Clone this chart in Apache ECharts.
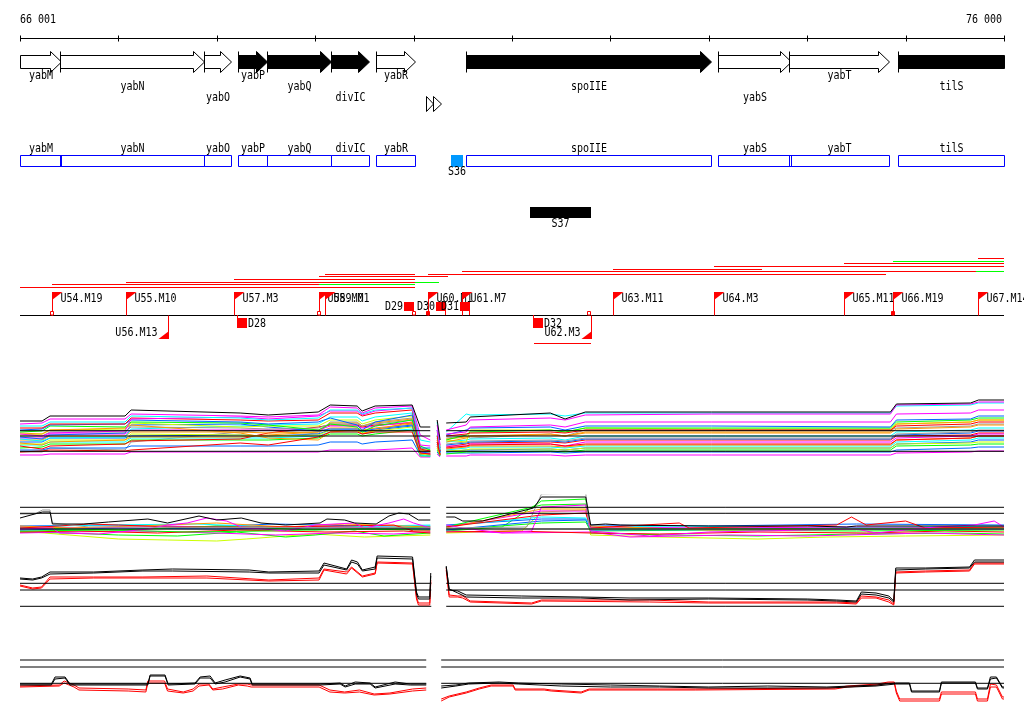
<!DOCTYPE html>
<html><head><meta charset="utf-8">
<script src="https://cdn.jsdelivr.net/npm/echarts@6/dist/echarts.min.js"></script>
<style>html,body{margin:0;padding:0;background:#fff}#c{width:1024px;height:714px}</style>
</head><body><div id="c"></div>
<script>
// ================= DATA =================
const RANGE = [66001, 76000];
const RANGE_LABELS = ['66 001', '76 000'];
const TICKS = [66001, 67001, 68001, 69001, 70001, 71001, 72001, 73001, 74001, 75001, 76000];

// genes (arrows + blue boxes)
const GENE_NAMES  = ['yabM', 'yabN', 'yabO', 'yabP', 'yabQ', 'divIC', 'yabR', 'spoIIE', 'yabS', 'yabT', 'tilS'];
const GENE_START  = [66001, 66408, 67871, 68216, 68511, 69161, 69619, 70533, 73094, 73815, 74923];
const GENE_END    = [66418, 67871, 68145, 68511, 69161, 69547, 70015, 73023, 73836, 74832, 76000];
const GENE_FILLED = [0, 0, 0, 1, 1, 1, 0, 1, 0, 0, 1];
const GENE_LABEL_ROW = [0, 1, 2, 0, 1, 2, 0, 1, 2, 0, 1];
// small unlabeled features (two small arrowheads)
const SMALL_START = [70122, 70193];
const SMALL_END   = [70193, 70274];

// S features
const S_NAMES = ['S36', 'S37'];
const S_START = [70381, 71183];
const S_END   = [70503, 71803];

// transcription-unit lines (lane, start, end, ok=green)
const TU_LANE  = [0, 1, 2, 3, 4, 5, 5, 6, 6, 7, 8, 9, 9, 10, 10, 11];
const TU_START = [75737, 74872, 74374, 73053, 72027, 70493, 75717, 69101, 70148, 69040, 68176, 67078, 70015, 66326, 69040, 66001];
const TU_END   = [76000, 76000, 76000, 76000, 73541, 75717, 76000, 70015, 74801, 70351, 70015, 70015, 70262, 69040, 70015, 70015];
const TU_OK    = [0, 1, 0, 0, 0, 0, 1, 0, 0, 0, 0, 0, 1, 0, 1, 0];
const LOWER_TU = [[71224, 71803]];

// flags (TU starts)
const FLAG_NAMES  = ['U54.M19', 'U55.M10', 'U56.M13', 'U57.M3', 'U58.M0', 'U59.M1', 'U60.M1', 'U61.M7', 'U62.M3', 'U63.M11', 'U64.M3', 'U65.M11', 'U66.M19', 'U67.M14'];
const FLAG_POS    = [66326, 67078, 67505, 68176, 69040, 69101, 70148, 70494, 71806, 72027, 73053, 74374, 74872, 75737];
const FLAG_STRAND = [1, 1, -1, 1, 1, 1, 1, 1, -1, 1, 1, 1, 1, 1];

// terminators
const TERM_NAMES  = ['D28', 'D29', 'D30', 'D31', 'D32'];
const TERM_POS    = [68206, 70007, 70332, 70576, 71214];
const TERM_STRAND = [-1, 1, 1, 1, -1];

// small baseline markers
const BASE_OPEN   = [66326, 69040, 70007, 71786];
const BASE_FILLED = [70148, 74872];

// ---- expression panel A (many conditions) ----
const A_POS = [66001, 66225, 66306, 67068, 67130, 68238, 68523, 69031, 69153, 69427, 69478, 69610, 69986, 70068, 70170, 70240, 70270, 70332, 70535, 70576, 71390, 71540, 71745, 73026, 74846, 74907, 75660, 75741, 76000];
const A_BREAKS = [70200, 70300];
const A_L1  = [39,39,44,44,50,47,45,48,55,54,49,54,55,33,33,40,20,37,38,43,47,41,48,48,48,56,57,60,60];
const A_L2  = [36,37,41,41,46,44,43,45,53,52,47,52,54,25,20,35,15,30,35,40,42,40,45,46,46,55,56,58,58];
const A_L3  = [34,34,38,38,44,42,40,42,50,50,46,50,52,20,18,38,10,28,46,45,46,44,47,47,47,54,55,57,57];
const A_L4  = [30,31,35,36,40,38,36,38,42,35,30,38,45,12,12,30,8,25,30,32,33,30,34,34,33,40,41,44,44];
const A_L5  = [28,29,34,33,38,37,35,30,36,33,28,34,40,14,10,25,12,20,25,28,30,28,32,32,32,38,40,42,42];
const A_L6  = [27,26,30,32,35,27,22,20,28,30,26,30,38,10,8,20,10,18,22,24,26,24,28,28,28,36,38,40,40];
const A_L7  = [8,8,12,10,18,28,30,26,38,38,34,38,42,9,9,22,6,22,24,22,26,24,30,30,30,32,34,36,36];
const A_L8  = [8,9,10,9,10,17,15,23,28,28,26,28,28,7,6,18,5,12,14,15,16,14,16,16,16,20,22,24,24];
const A_L9  = [25,26,30,31,37,33,34,34,40,40,36,40,44,12,10,28,14,20,18,30,30,28,32,31,31,36,38,40,40];
const A_L10 = [22,22,26,26,30,30,30,30,34,34,32,34,38,8,6,20,8,14,14,16,16,14,18,18,18,22,24,26,26];
const A_L11 = [18,18,22,22,24,25,24,26,30,30,28,30,34,6,5,16,6,8,10,10,11,10,12,12,12,16,18,20,20];
const A_L12 = [15,15,18,18,22,22,22,24,28,28,26,28,31,5,4,12,5,10,12,13,13,12,14,14,14,18,20,22,22];
const A_L13 = [12,13,16,16,20,20,20,22,26,26,24,26,30,4,4,10,4,6,8,8,9,8,10,10,10,14,15,16,16];
const A_L14 = [20,20,24,24,28,28,27,28,32,32,30,32,36,7,6,14,6,11,13,14,14,13,15,15,15,20,22,24,24];
const A_L15 = [24,24,28,28,33,32,31,32,36,36,34,36,40,9,8,16,7,16,18,19,20,19,22,22,22,26,28,30,30];
const A_L16 = [32,32,36,36,42,40,39,40,47,47,44,47,50,11,9,24,9,24,26,27,28,27,30,30,30,34,36,38,38];
const A_L17 = [5,5,6,6,8,8,8,8,10,10,10,10,12,3,3,6,3,4,4,5,5,4,5,5,5,7,8,9,9];
const A_L18 = [10,10,12,12,14,14,14,15,18,18,16,18,20,5,4,8,4,7,7,7,8,7,8,8,8,10,12,13,13];
const A_L19 = [16,16,20,20,26,25,24,25,30,29,27,29,33,6,5,12,5,9,10,11,11,10,12,12,12,16,17,18,18];
const A_L20 = [26,24,27,29,41,43,41,44,49,49,45,49,52,15,14,30,12,26,28,33,35,33,38,38,38,46,47,50,50];
const A_L21 = [21,19,22,23,31,34,35,36,43,43,39,43,47,10,9,24,8,18,20,21,22,20,24,24,24,28,30,32,32];
const A_L22 = [14,11,14,16,19,21,27,33,35,35,33,35,37,6,6,14,5,13,16,17,18,17,20,20,20,24,25,27,27];
const A_L23 = [23,21,25,27,35,36,33,29,31,31,29,31,35,8,7,18,7,15,17,18,19,18,21,21,21,25,27,29,29];
const A_L24 = [17,15,18,20,23,23,25,28,37,37,34,37,41,9,8,18,8,21,23,24,25,24,27,27,27,31,33,35,35];
const A_LINES  = [A_L7, A_L17, A_L18, A_L13, A_L12, A_L22, A_L11, A_L19, A_L24, A_L14, A_L10, A_L21, A_L23, A_L15, A_L9, A_L6, A_L5, A_L4, A_L16, A_L8, A_L20, A_L3, A_L2, A_L1];
const A_COLORS = ['#999999','#ff00ff','#0066ff','#00ff00','#00ffff','#ff0000','#0066ff','#ccff00','#ff9900','#ff9900','#ff00ff','#00ffff','#0066ff','#999999','#ccff00','#ff9900','#00ff00','#0066ff','#ff0000','#ff0000','#ff00ff','#00ffff','#ff00ff','#000000'];
const A_REF = [29.3, 24, 8.7];
const A_SEGS = [[66001, 70170], [70332, 76000]];

// ---- expression panel B (ratios, centred) ----
const B_L1 = [[66001,27],[66150,31],[66230,33],[66306,33],[66330,21],[66650,21],[66900,23],[67300,26],[67500,22],[67820,29],[68000,25],[68250,27],[68450,22],[68700,20],[69050,22],[69120,26],[69300,25],[69400,22],[69620,21],[69750,29],[69850,32],[69950,31],[70050,25],[70170,25],null,[70332,28],[70420,28],[70500,24],[70700,24],[71220,37],[71300,48],[71750,48],[71800,20],[71950,21],[72100,20],[73000,19],[74000,19],[74400,18],[74500,19],[76000,19]];
const B_L2 = [[66001,31],[66150,31],[66230,35],[66306,35],[66330,22],[66700,18],[70170,17],null,[70332,17],[71150,18],[71300,51],[71750,52],[71780,20],[71800,16],[76000,16]];
const B_L3 = [[66001,16],[66330,17],[66400,12],[66800,11],[67300,16],[67500,20],[67700,22],[67900,27],[68100,24],[68250,18],[68700,14],[69000,20],[69400,22],[69500,17],[69750,22],[69900,26],[70000,22],[70170,17],null,[70332,20],[70500,17],[70900,12],[71200,14],[71300,38],[71750,40],[71800,14],[72400,9],[73000,13],[74500,16],[74700,12],[75300,18],[75700,20],[75900,24],[76000,18]];
const B_L4 = [[66001,13],[66500,12],[67000,10],[67600,9],[68200,13],[68700,8],[69000,10],[69400,14],[69700,9],[70170,12],null,[70332,14],[70900,18],[71300,44],[71750,46],[71800,12],[72600,10],[73500,9],[74500,11],[75500,12],[76000,11]];
const B_L5 = [[66001,14],[66500,10],[67000,6],[67500,5],[68000,4],[68300,6],[68700,9],[69000,11],[69500,8],[70170,10],null,[70332,12],[71100,14],[71300,33],[71750,35],[71800,10],[72500,8],[73500,6],[74200,8],[75000,9],[76000,10]];
const B_L6 = [[66001,17],[66400,19],[66700,21],[67000,20],[67500,18],[68500,18],[69300,19],[69800,20],[70000,14],[70170,14],null,[70332,18],[71300,30],[71750,32],[71800,17],[72700,22],[72800,17],[74300,20],[74450,28],[74600,20],[75000,24],[75200,17],[76000,18]];
const B_L7 = [[66001,15],[67000,17],[68000,16],[69000,18],[70170,16],null,[70332,15],[71300,24],[71750,25],[71800,15],[76000,16]];
const B_L8 = [[66001,18],[66800,20],[67800,21],[68800,17],[69600,19],[70170,20],null,[70332,19],[71300,28],[71750,27],[71800,18],[72800,19],[74000,17],[76000,19]];
const B_L9 = [[66001,19],[66500,17],[67200,19],[68000,22],[68700,18],[69300,21],[70170,18],null,[70332,17],[71300,36],[71750,36],[71800,19],[73000,15],[76000,17]];
const B_L10 = [[66001,16],[70170,16],null,[70332,16],[76000,16]];
const B_L11 = [[66001,12],[66500,13],[67200,14],[68000,12],[68600,10],[69200,12],[69800,11],[70170,13],null,[70332,14],[71000,12],[71800,13],[72200,8],[73200,10],[74000,9],[75200,12],[76000,10]];
const B_L12 = [[66001,17],[67000,15],[68000,19],[69000,15],[70170,18],null,[70332,18],[71300,40],[71750,41],[71800,16],[76000,17]];
const B_L13 = [[66001,13],[66600,14],[67400,12],[68200,15],[69100,13],[69900,14],[70170,12],null,[70332,13],[71000,14],[71800,12],[72500,11],[73500,13],[74600,12],[75400,14],[76000,13]];
const B_L14 = [[66001,19],[67000,20],[67800,18],[68600,21],[69500,19],[70170,19],null,[70332,20],[71300,26],[71750,26],[71800,20],[73000,19],[74500,21],[76000,20]];
const B_L15 = [[66001,18],[66700,17],[67500,19],[68300,17],[69000,18],[69800,17],[70170,18],null,[70332,18],[71300,34],[71750,34],[71800,18],[73000,17],[74500,18],[76000,17]];
const B_L16 = [[66001,14],[66900,15],[67700,13],[68500,14],[69300,16],[70170,15],null,[70332,15],[71300,22],[71750,23],[71800,14],[73000,15],[74500,14],[76000,15]];
const B_LINES  = [B_L10, B_L5, B_L4, B_L11, B_L13, B_L16, B_L7, B_L14, B_L8, B_L15, B_L9, B_L12, B_L6, B_L3, B_L2, B_L1];
const B_COLORS = ['#999999','#ccff00','#00ff00','#ff00ff','#ff0000','#00ff00','#0066ff','#0066ff','#00ffff','#ff00ff','#ff9900','#00ff00','#ff0000','#ff00ff','#999999','#000000'];
const B_REF = [37.7, 31.7, 16];
const B_SEGS = [[66001, 70170], [70332, 76000]];

// ---- expression panel C (two black, two red profiles) ----
const C_BLACK1 = [[66001,32],[66130,31],[66220,33],[66306,38],[66750,38],[67250,40],[67550,41],[68330,40],[68530,38],[69040,39],[69090,47],[69320,41],[69370,50],[69430,48],[69480,40],[69610,43],[69630,54],[69990,53],[70030,18],[70050,13],[70165,13],[70175,37],null,[70332,44],[70362,20],[70450,19],[70535,15],[71100,14],[71700,13],[72200,12],[73000,12],[74000,11],[74300,10],[74500,9],[74550,18],[74700,17],[74830,14],[74880,9],[74900,42],[75200,42],[75650,43],[75700,50],[76000,50]];
const C_BLACK2 = [[66001,31],[66130,30],[66220,32],[66306,36],[66750,37],[67250,39],[67550,39],[68330,38],[68530,37],[69040,37],[69090,45],[69320,40],[69370,48],[69430,46],[69480,39],[69610,41],[69630,52],[69990,51],[70030,16],[70050,11],[70165,11],[70175,34],null,[70332,43],[70362,21],[70450,17],[70535,13],[71100,12],[71700,12],[72200,10],[73000,11],[74000,10],[74300,9],[74500,8],[74550,16],[74700,15],[74830,12],[74880,8],[74900,40],[75200,41],[75650,42],[75700,48],[76000,48]];
const C_RED1 = [[66001,25],[66130,22],[66220,23],[66306,33],[66750,33],[67250,33],[67900,34],[68530,30],[69040,32],[69090,41],[69320,38],[69370,43],[69480,34],[69610,37],[69630,48],[69990,47],[70030,13],[70050,7],[70165,7],[70175,30],null,[70332,42],[70362,15],[70450,14],[70500,14],[70576,9],[71200,7],[71300,10],[72400,10],[73000,8],[74300,8],[74500,7],[74550,14],[74700,13],[74830,10],[74880,6],[74900,38],[75200,39],[75650,40],[75700,47],[76000,47]];
const C_RED2 = [[66001,24],[66130,21],[66220,22],[66306,31],[66750,32],[67250,32],[67900,32],[68530,29],[69040,30],[69090,40],[69320,36],[69370,42],[69480,33],[69610,36],[69630,47],[69990,46],[70030,11],[70050,5],[70165,5],[70175,28],null,[70332,40],[70362,13],[70450,13],[70500,12],[70576,8],[71200,6],[71300,9],[72400,8],[73000,7],[74300,7],[74500,6],[74550,12],[74700,12],[74830,8],[74880,5],[74900,37],[75200,38],[75650,39],[75700,46],[76000,46]];
const C_LINES  = [C_RED2, C_RED1, C_BLACK2, C_BLACK1];
const C_COLORS = ['#ff0000','#ff0000','#000000','#000000'];
const C_REF = [26.7, 20, 3.7];
const C_SEGS = [[66001, 70180], [70332, 76000]];

// ---- expression panel D ----
const D_BLACK1 = [[66001,21],[66320,21],[66357,28],[66459,28],[66509,21],[67300,21],[67323,30],[67475,30],[67506,21],[67780,22],[67831,28],[67933,29],[67984,22],[68085,25],[68238,29],[68339,27],[68360,21],[69051,21],[69254,22],[69305,19],[69407,23],[69559,22],[69610,18],[69813,23],[69966,21],[70129,21],null,[70281,19],[70430,20],[70560,22],[70870,23],[71070,22],[71500,21],[72000,20],[72500,19],[73000,18],[73600,19],[74200,18],[74700,20],[74900,22],[75040,22],[75060,14],[75344,14],[75364,23],[75710,23],[75730,17],[75832,17],[75862,28],[75923,28],[75984,18],[76000,18]];
const D_BLACK2 = [[66001,20],[66320,20],[66357,26],[66459,27],[66509,20],[67300,20],[67323,29],[67475,29],[67506,20],[67780,21],[67831,27],[67933,27],[67984,21],[68085,23],[68238,28],[68339,26],[68360,20],[69051,20],[69254,21],[69305,18],[69407,21],[69559,21],[69610,17],[69813,21],[69966,20],[70129,20],null,[70281,17],[70430,19],[70560,21],[70870,22],[71070,21],[71500,19],[72000,18],[72500,18],[73000,17],[73600,17],[74200,17],[74700,19],[74900,21],[75040,21],[75060,13],[75344,13],[75364,22],[75710,22],[75730,16],[75832,16],[75862,26],[75923,27],[75984,17],[76000,17]];
const D_RED1 = [[66001,19],[66400,20],[66450,24],[66550,20],[66600,17],[67100,16],[67280,15],[67300,24],[67470,24],[67500,16],[67660,13],[67760,16],[67820,21],[67920,21],[67960,16],[68060,18],[68220,21],[68310,21],[68350,20],[69040,20],[69150,15],[69300,13],[69450,15],[69600,11],[69760,12],[69990,16],[70129,17],null,[70281,6],[70362,9],[70535,13],[70667,17],[70789,20],[71012,20],[71032,16],[71327,16],[71398,15],[71703,13],[71784,16],[72475,16],[72862,16],[74285,17],[74407,19],[74712,21],[74824,23],[74885,23],[74906,14],[74940,6],[75344,6],[75364,13],[75710,13],[75730,6],[75832,6],[75862,21],[75923,20],[75984,8],[76000,8]];
const D_RED2 = [[66001,18],[66400,19],[66450,22],[66550,18],[66600,15],[67100,14],[67280,13],[67300,22],[67470,22],[67500,14],[67660,12],[67760,14],[67820,19],[67920,20],[67960,15],[68060,16],[68220,20],[68310,19],[68350,18],[69040,18],[69150,13],[69300,12],[69450,13],[69600,10],[69760,11],[69990,14],[70129,15],null,[70281,4],[70362,8],[70535,12],[70667,16],[70789,19],[71012,19],[71032,15],[71327,15],[71398,14],[71703,12],[71784,15],[72475,15],[72862,15],[74285,16],[74407,18],[74712,20],[74824,22],[74885,22],[74906,12],[74940,4],[75344,4],[75364,11],[75710,11],[75730,4],[75832,4],[75862,18],[75923,18],[75984,6],[76000,6]];
const D_LINES  = [D_RED2, D_RED1, D_BLACK2, D_BLACK1];
const D_COLORS = ['#ff0000','#ff0000','#000000','#000000'];
const D_REF = [45, 38, 21.7];
const D_SEGS = [[66001, 70129], [70281, 76000]];

// ================= RENDER =================
const FONT = '10px "DejaVu Sans Mono", "Liberation Mono", monospace';
const RED = '#ff0000', GREEN = '#00ff00', BLUE = '#0000ff';

function X(api, pos) { return api.coord([pos, 0])[0]; }
function Y(api, y) { return api.coord([RANGE[0], y])[1]; }
function cx(v) { return Math.round(v) + 0.5; }
function txt(x, y, s, align) {
  return { type: 'text', x: x, y: y, scaleY: 1.2,
    style: { x: 0, y: 0, text: s, fill: '#000', font: FONT, align: align || 'center', verticalAlign: 'middle' } };
}
function ln(x1, y1, x2, y2, c) {
  return { type: 'line', shape: { x1: x1, y1: y1, x2: x2, y2: y2 }, style: { stroke: c, lineWidth: 1 } };
}

const GENE_ROW_Y = [76, 87, 98];

function renderGene(params, api) {
  const i = api.value(2);
  const s = GENE_START[i], e = GENE_END[i];
  const xs = cx(X(api, s)), xe = cx(X(api, e));
  const yT = cx(Y(api, 51)), yBT = cx(Y(api, 55)), yBB = cx(Y(api, 68)), yB = cx(Y(api, 72));
  const yM = (yT + yB) / 2, H = 11;
  let pts;
  if (e >= RANGE[1]) pts = [[xs, yBT], [xe, yBT], [xe, yBB], [xs, yBB]];
  else { const hx = Math.max(xs, xe - H); pts = [[xs, yBT], [hx, yBT], [hx, yT], [xe, yM], [hx, yB], [hx, yBB], [xs, yBB]]; }
  const ch = [{ type: 'polygon', shape: { points: pts }, style: { fill: GENE_FILLED[i] ? '#000' : '#fff', stroke: '#000', lineWidth: 1 } }];
  if (s > RANGE[0]) ch.push(ln(xs, yT, xs, yB, '#000'));
  ch.push(txt((xs + xe) / 2, Y(api, GENE_ROW_Y[GENE_LABEL_ROW[i]]), GENE_NAMES[i]));
  return { type: 'group', children: ch };
}
function renderSmall(params, api) {
  const i = api.value(2);
  const xs = cx(X(api, SMALL_START[i])), xe = cx(X(api, SMALL_END[i]));
  const yT = cx(Y(api, 96)), yB = cx(Y(api, 111));
  return { type: 'polygon', shape: { points: [[xs, yT], [xe, (yT + yB) / 2], [xs, yB]] }, style: { fill: '#fff', stroke: '#000', lineWidth: 1 } };
}
function renderBox(params, api) {
  const i = api.value(2);
  const xs = cx(X(api, GENE_START[i])), xe = cx(X(api, GENE_END[i]));
  const yT = cx(Y(api, 155)), yB = cx(Y(api, 166));
  return { type: 'group', children: [
    { type: 'rect', shape: { x: xs, y: yT, width: xe - xs, height: yB - yT }, style: { fill: 'none', stroke: BLUE, lineWidth: 1 } },
    txt((xs + xe) / 2, Y(api, 149), GENE_NAMES[i])
  ] };
}
function renderS(params, api) {
  const i = api.value(2);
  const xs = Math.round(X(api, S_START[i])), xe = Math.round(X(api, S_END[i]));
  const top = i === 0 ? 155 : 207, bot = i === 0 ? 167 : 218, ly = i === 0 ? 172 : 224;
  const col = i === 0 ? '#0099ff' : '#000';
  return { type: 'group', children: [
    { type: 'rect', shape: { x: xs, y: Y(api, top), width: xe - xs, height: Y(api, bot) - Y(api, top) }, style: { fill: col } },
    txt((xs + xe) / 2, Y(api, ly), S_NAMES[i])
  ] };
}
function renderTU(params, api) {
  const i = api.value(2);
  const y = cx(Y(api, 258 + TU_LANE[i] * 29 / 11));
  return ln(Math.round(X(api, TU_START[i])), y, Math.round(X(api, TU_END[i])), y, TU_OK[i] ? GREEN : RED);
}
function renderLowerTU(params, api) {
  const i = api.value(2);
  const y = cx(Y(api, 343));
  return ln(Math.round(X(api, LOWER_TU[i][0])), y, Math.round(X(api, LOWER_TU[i][1])), y, RED);
}
function renderFlag(params, api) {
  const i = api.value(2);
  const x = cx(X(api, FLAG_POS[i]));
  const base = cx(Y(api, 315));
  if (FLAG_STRAND[i] > 0) {
    const top = Y(api, 292);
    return { type: 'group', children: [
      ln(x, top, x, base, RED),
      { type: 'polygon', shape: { points: [[x - 0.5, top], [x + 10, top], [x - 0.5, top + 8]] }, style: { fill: RED } },
      txt(x + 8, Y(api, 298.5), FLAG_NAMES[i], 'left')
    ] };
  } else {
    const bot = Y(api, 339);
    return { type: 'group', children: [
      ln(x, base, x, bot, RED),
      { type: 'polygon', shape: { points: [[x + 0.5, bot], [x - 10, bot], [x + 0.5, bot - 8]] }, style: { fill: RED } },
      txt(x - 11, Y(api, 332.5), FLAG_NAMES[i], 'right')
    ] };
  }
}
function renderTerm(params, api) {
  const i = api.value(2);
  const x = Math.round(X(api, TERM_POS[i]));
  const base = Y(api, 315);
  if (TERM_STRAND[i] > 0) {
    return { type: 'group', children: [
      ln(x - 0.5, Y(api, 311), x - 0.5, base, RED),
      { type: 'rect', shape: { x: x - 10, y: Y(api, 302), width: 10, height: 9 }, style: { fill: RED } },
      txt(x - 11, Y(api, 306.5), TERM_NAMES[i], 'right')
    ] };
  } else {
    return { type: 'group', children: [
      ln(x + 0.5, base, x + 0.5, Y(api, 318), RED),
      { type: 'rect', shape: { x: x, y: Y(api, 318), width: 10, height: 10 }, style: { fill: RED } },
      txt(x + 11, Y(api, 323.5), TERM_NAMES[i], 'left')
    ] };
  }
}
function renderBaseMark(params, api) {
  const filled = api.value(2);
  const x = Math.round(X(api, api.value(0)));
  return { type: 'rect', shape: { x: x - 1.5, y: Y(api, 311.5), width: 3, height: 3.5 }, style: { fill: filled ? RED : '#fff', stroke: RED, lineWidth: 1 } };
}
function renderAxis(params, api) {
  const ch = [];
  const y = cx(Y(api, 38));
  ch.push(ln(X(api, RANGE[0]), y, X(api, RANGE[1]), y, '#000'));
  TICKS.forEach(function (t) { const x = cx(X(api, t)); ch.push(ln(x, y - 3, x, y + 3, '#000')); });
  ch.push(txt(X(api, RANGE[0]), Y(api, 20), RANGE_LABELS[0], 'left'));
  ch.push(txt(X(api, RANGE[1]) - 2, Y(api, 20), RANGE_LABELS[1], 'right'));
  const yb = cx(Y(api, 315));
  ch.push(ln(X(api, RANGE[0]), yb, X(api, RANGE[1]), yb, '#000'));
  return { type: 'group', children: ch };
}

function idxData(n) { const d = []; for (let i = 0; i < n; i++) d.push([RANGE[0], 0, i]); return d; }
function custom(name, render, data, z) {
  return { type: 'custom', name: name, xAxisIndex: 0, yAxisIndex: 0, renderItem: render, data: data, silent: true, z: z || 2, animation: false };
}

// expression helpers
function pairsToData(arr) {
  const out = [];
  arr.forEach(function (p) {
    if (p === null) { const last = out[out.length - 1]; out.push([last[0] + 1, '-']); }
    else out.push(p);
  });
  return out;
}
function posToData(pos, vals, breaks) {
  const out = [];
  for (let i = 0; i < pos.length; i++) {
    if (i > 0) breaks.forEach(function (b) { if (pos[i - 1] < b && pos[i] > b) out.push([b, '-']); });
    out.push([pos[i], vals[i]]);
  }
  return out;
}
function refData(segs, v) {
  const out = [];
  segs.forEach(function (s, k) { if (k > 0) out.push([s[0] - 1, '-']); out.push([s[0], v], [s[1], v]); });
  return out;
}
function lineSeries(gi, data, color, z) {
  return { type: 'line', xAxisIndex: gi, yAxisIndex: gi, data: data, symbol: 'none', showSymbol: false, connectNulls: false,
    lineStyle: { width: 1, color: color }, itemStyle: { color: color }, silent: true, animation: false, z: z || 2 };
}

const series = [];
series.push(custom('axis', renderAxis, [[RANGE[0], 0, 0]], 3));
series.push(custom('genes', renderGene, idxData(GENE_NAMES.length)));
series.push(custom('small', renderSmall, idxData(SMALL_START.length)));
series.push(custom('boxes', renderBox, idxData(GENE_NAMES.length)));
series.push(custom('S', renderS, idxData(S_NAMES.length)));
series.push(custom('tu', renderTU, idxData(TU_LANE.length)));
series.push(custom('lowertu', renderLowerTU, idxData(LOWER_TU.length)));
series.push(custom('flags', renderFlag, idxData(FLAG_NAMES.length), 4));
series.push(custom('terms', renderTerm, idxData(TERM_NAMES.length), 4));
series.push(custom('basemarks', renderBaseMark,
  BASE_OPEN.map(function (p) { return [p, 0, 0]; }).concat(BASE_FILLED.map(function (p) { return [p, 0, 1]; })), 5));

A_LINES.forEach(function (v, k) { series.push(lineSeries(1, posToData(A_POS, v, A_BREAKS), A_COLORS[k], 2)); });
A_REF.forEach(function (v) { series.push(lineSeries(1, refData(A_SEGS, v), '#000', 3)); });
B_LINES.forEach(function (v, k) { series.push(lineSeries(2, pairsToData(v), B_COLORS[k], 2)); });
B_REF.forEach(function (v) { series.push(lineSeries(2, refData(B_SEGS, v), '#000', 3)); });
C_LINES.forEach(function (v, k) { series.push(lineSeries(3, pairsToData(v), C_COLORS[k], 2)); });
C_REF.forEach(function (v) { series.push(lineSeries(3, refData(C_SEGS, v), '#000', 3)); });
D_LINES.forEach(function (v, k) { series.push(lineSeries(4, pairsToData(v), D_COLORS[k], 2)); });
D_REF.forEach(function (v) { series.push(lineSeries(4, refData(D_SEGS, v), '#000', 3)); });

const GRIDS = [[0, 714], [395, 65], [495, 50], [550, 60], [650, 55]];
const YMAX = [714, 65, 50, 60, 55];

const option = {
  backgroundColor: '#ffffff',
  animation: false,
  grid: GRIDS.map(function (g) { return { left: 20, right: 20, top: g[0], height: g[1] }; }),
  xAxis: GRIDS.map(function (g, i) { return { type: 'value', gridIndex: i, min: RANGE[0], max: RANGE[1], show: false }; }),
  yAxis: GRIDS.map(function (g, i) { return { type: 'value', gridIndex: i, min: 0, max: YMAX[i], inverse: i === 0, show: false }; }),
  series: series
};
const chart = echarts.init(document.getElementById('c'), null, { renderer: 'canvas' });
chart.setOption(option);
</script>
</body></html>
